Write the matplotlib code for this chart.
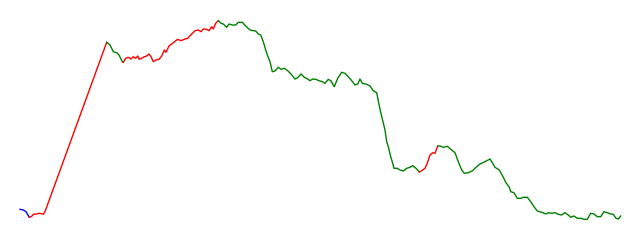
import matplotlib
matplotlib.use("Agg")
import matplotlib.pyplot as plt

# Segments of one series: (time index, value), coloured by trend state
blue_t = [0, 3.3, 6, 9.3]
blue_v = [30.7, 30, 28.3, 22.7]

red1_t = [9.3, 11.7, 13.3, 16.7, 19.3, 21.7, 23.3, 25, 86.7]
red1_v = [22.7, 23.7, 25.7, 26, 26.7, 26.3, 25.7, 28.3, 197.7]

green1_t = [86.7, 90, 93.3, 96.7, 99, 102.3, 103.3]
green1_v = [197.7, 195, 188.3, 187.3, 185, 178.3, 177.7]

red2_t = [103.3, 105.7, 108.3, 111, 113.3, 115.7, 117.7, 119.3, 121.7, 124.3, 126.7, 129, 131,
          133.3, 135.7, 139, 141.7, 144.3, 146, 149, 153.3, 157.7, 161, 164.3, 167.7, 171.7, 175,
          178.3, 181, 183.3, 186.7, 189, 191.7, 193.3, 195.7, 198.3]
red2_v = [177.7, 181.7, 182.7, 181, 183.3, 181.7, 184, 180.7, 181.7, 183.3, 184, 186, 183.3,
          178.3, 180, 180.7, 184, 190, 187.7, 194, 197.3, 200.7, 199.3, 200.7, 201.7, 206, 209.3,
          210, 208.3, 211, 210.7, 209.3, 213.3, 211, 216.7, 219.3]

green2_t = [198.3, 201, 203.3, 206.7, 209, 212.3, 215.7, 218.3, 222.3, 225.7, 230, 233.3, 235.7,
            238.3, 240.7, 243.3, 245.7, 247.7, 250, 252.3, 255, 258.3, 261, 264.3, 267.7, 271,
            275, 277.7, 281, 284.3, 287.7, 290, 292.7, 295.7, 299, 302.3, 305, 308.3, 311, 314.3,
            317.7, 321.7, 325, 328.3, 331.7, 335, 337.7, 340, 342.3, 346.7, 350, 353.3, 356.7,
            360, 365, 366.7, 368.3, 370.7, 372.7, 374, 377.3, 380, 383.3, 386.7, 390, 392.7,
            396, 399.3]
green2_v = [219.3, 216.7, 216, 212.7, 216, 215, 215, 217.7, 217.7, 214, 210, 209.3, 209, 206,
            205, 198.3, 190, 184, 178.3, 168.3, 169, 172.7, 170.7, 171.7, 169.3, 166, 161, 162.3,
            166, 162.7, 161, 159.3, 161, 160.7, 159.3, 158.3, 156.7, 160.7, 159, 153.3, 161.7,
            167.7, 166.7, 163.3, 159.3, 155, 156, 161, 156.7, 155.7, 154, 149.3, 147.3, 130.7,
            110, 98.3, 93.3, 83.3, 76.7, 71.7, 71.7, 70, 69, 71.7, 72.7, 74.3, 71.7, 68]

red3_t = [399.3, 401.7, 405, 407.3, 410, 412.7, 415, 417.7]
red3_v = [68, 69.3, 71.7, 76.7, 85, 87.3, 86.7, 94]

green3_t = [417.7, 420, 423.3, 427.3, 431.7, 435, 438.3, 441.7, 444.3, 448.3, 452.7, 456, 460,
            465, 470, 472.7, 475, 479.3, 482.7, 486, 489.3, 490.7, 494, 497.3, 500.7, 503.3,
            507.3, 510.7, 514, 517.3, 521.7, 526, 528.3, 531.7, 535, 538.3, 541.7, 545, 548.3,
            550.7, 554, 557.3, 560.7, 564, 567.3, 570.7, 574, 577.3, 580.7, 584, 587.3, 590.7,
            593.3, 596, 598.3, 600.7]
green3_v = [94, 94, 92.7, 93.7, 90, 87.3, 78.3, 70, 66.7, 67.3, 69.3, 72.7, 76, 78.3, 81, 76.7,
            72.7, 70, 64, 57.3, 52.7, 48.3, 47.3, 41.7, 41.7, 42.7, 42.7, 38.3, 33.3, 29, 27.7,
            26, 27.3, 26.7, 27.3, 25.7, 25, 27.3, 25, 22.7, 24, 21.7, 21.7, 20.7, 20.7, 26.7, 26,
            23.3, 23.3, 28.3, 27.3, 26, 25.7, 21.7, 21, 24]

segments = [
    (blue_t, blue_v, "blue"),
    (red1_t, red1_v, "red"),
    (green1_t, green1_v, "green"),
    (red2_t, red2_v, "red"),
    (green2_t, green2_v, "green"),
    (red3_t, red3_v, "red"),
    (green3_t, green3_v, "green"),
]

fig = plt.figure(figsize=(6.4, 2.4), dpi=100)
ax = fig.add_axes([0, 0, 1, 1])
for t, v, c in segments:
    ax.plot(t, v, color=c, linewidth=1.0)
ax.set_xlim(-20, 620)
ax.set_ylim(0, 240)
ax.axis("off")
fig.savefig("out.png", dpi=100)
